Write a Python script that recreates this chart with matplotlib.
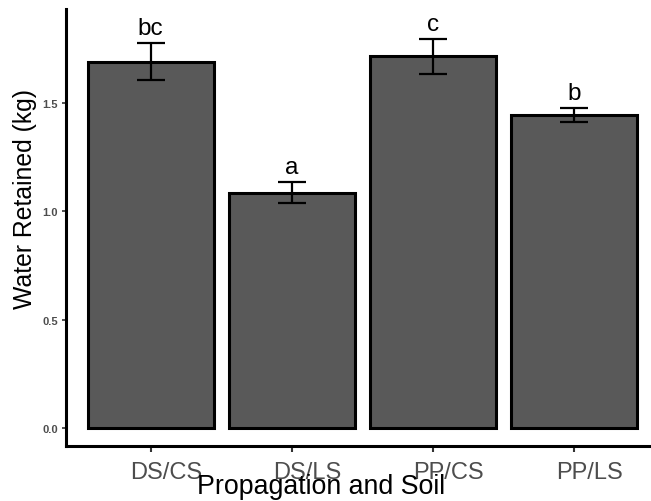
import matplotlib
matplotlib.use("Agg")
import matplotlib.pyplot as plt
import matplotlib.transforms as mtransforms
import numpy as np

plt.rcParams['font.family'] = ['Liberation Sans', 'DejaVu Sans']

# Treatment groups, mean water retained and standard errors
groups = ["DS/CS", "DS/LS", "PP/CS", "PP/LS"]
means = [1.690, 1.087, 1.715, 1.443]
errors = [0.086, 0.048, 0.080, 0.032]
letters = ["bc", "a", "c", "b"]
yticks = [0.0, 0.5, 1.0, 1.5]

W, H = 651, 502
fig = plt.figure(figsize=(W / 100, H / 100), dpi=100)
left, right, top, bottom = 66, 659, 10, 447
ax = fig.add_axes([left / W, 1 - bottom / H, (right - left) / W, (bottom - top) / H])

x = np.arange(1, len(groups) + 1)
ax.bar(x, means, width=0.89, color="#595959", edgecolor="black", linewidth=2.2, zorder=2)
ax.errorbar(x, means, yerr=errors, fmt="none", ecolor="black", elinewidth=1.6,
            capsize=10.4, capthick=1.6, zorder=3)

for xi, m, e, lab in zip(x, means, errors, letters):
    ax.annotate(lab, (xi, m + e), xytext=(0, 6.5), textcoords="offset points",
                ha="center", va="baseline", fontsize=17.5, color="black")

ax.set_xlim(0.4, 4.6)
ax.set_ylim(-0.083, 1.934)
ax.set_xticks(x)
ax.set_xticklabels(groups)
ax.set_yticks(yticks)
ax.set_yticklabels([f"{v:.1f}" for v in yticks])

for s in ["top", "right"]:
    ax.spines[s].set_visible(False)
for s in ["left", "bottom"]:
    ax.spines[s].set_linewidth(2.2)
    ax.spines[s].set_color("black")

ax.tick_params(axis="x", length=4, width=1.5, color="#333333", pad=7,
               labelsize=17, labelcolor="#4D4D4D")
ax.tick_params(axis="y", length=3, width=1.2, color="#333333", pad=3,
               labelsize=8, labelcolor="#4D4D4D")
for t in ax.get_yticklabels():
    t.set_fontweight("bold")

# category labels sit a little to the right of their ticks
shift = mtransforms.ScaledTranslation(15 / 100, 0, fig.dpi_scale_trans)
for t in ax.get_xticklabels():
    t.set_transform(t.get_transform() + shift)

fig.text(321 / W, 1 - 494 / H, "Propagation and Soil", ha="center", va="baseline",
         fontsize=19.3, color="black")
fig.text(25 / W, 1 - 199 / H, "Water Retained (kg)", ha="center", va="center",
         rotation=90, fontsize=17.8, color="black")

fig.savefig("out.png", dpi=100)
